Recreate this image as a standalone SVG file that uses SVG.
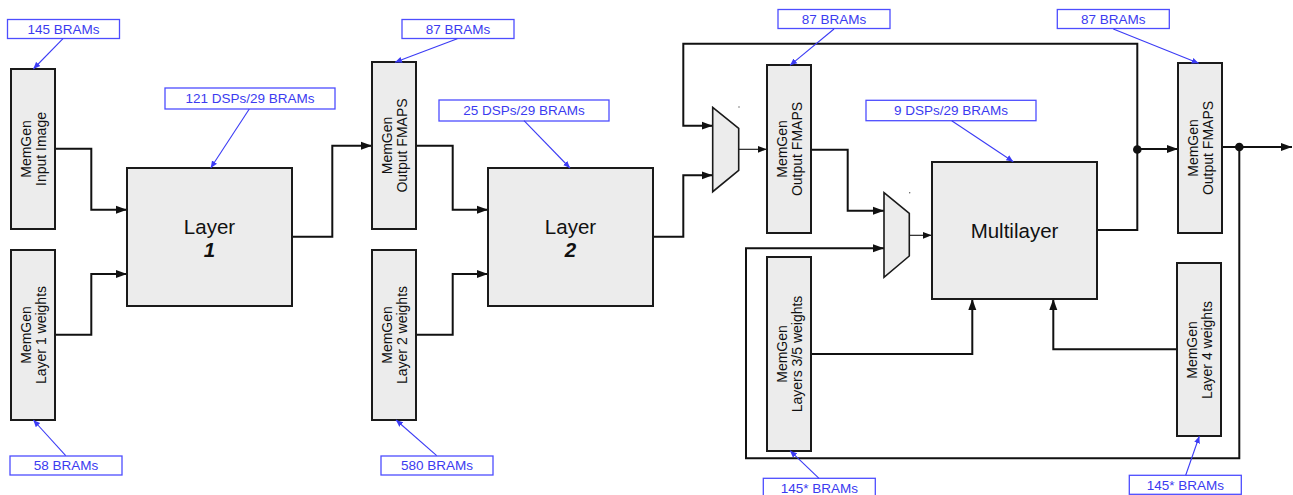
<svg xmlns="http://www.w3.org/2000/svg" width="1293" height="495" viewBox="0 0 1293 495">
<style>
.box{fill:#ececec;stroke:#1a1a1a;stroke-width:2}
.mux{fill:#ececec;stroke:#1a1a1a;stroke-width:1.6}
.vt{font-family:"Liberation Sans",Arial,sans-serif;font-size:14px;fill:#111;text-anchor:middle}
.big{font-family:"Liberation Sans",Arial,sans-serif;font-size:20.5px;fill:#111;text-anchor:middle}
.num{font-weight:bold;font-style:italic}
.lbl{fill:#fff;stroke:#4d4dff;stroke-width:1.3}
.lt{font-family:"Liberation Sans",Arial,sans-serif;font-size:13.5px;fill:#3b3bf0;text-anchor:middle}
.bl{stroke:#3b3bf5;stroke-width:1.1;fill:none;marker-end:url(#ba)}
.c{stroke:#111;stroke-width:2;fill:none}
.ca{stroke:#111;stroke-width:2;fill:none;marker-end:url(#ka)}
.thin{stroke:#111;stroke-width:1.1;fill:none;marker-end:url(#ka2)}
</style>
<defs>
<marker id="ka" markerUnits="userSpaceOnUse" markerWidth="12" markerHeight="10" refX="11" refY="5" orient="auto"><path d="M0,1 L11,5 L0,9 Z" fill="#111"/></marker>
<marker id="ka2" markerUnits="userSpaceOnUse" markerWidth="10" markerHeight="8" refX="9" refY="4" orient="auto"><path d="M0,0.5 L9,4 L0,7.5 Z" fill="#111"/></marker>
<marker id="ba" markerUnits="userSpaceOnUse" markerWidth="8" markerHeight="7" refX="7" refY="3.5" orient="auto"><path d="M0,0.5 L7,3.5 L0,6.5 Z" fill="#3b3bf5"/></marker>
</defs>

<g id="connectors">
<path class="ca" d="M55,148.7 H91.3 V209.7 H127"/>
<path class="ca" d="M55,334.7 H91.3 V274 H127"/>
<path class="ca" d="M292,236.7 H332.3 V145.7 H372"/>
<path class="ca" d="M416.7,145.7 H452.7 V209.7 H488"/>
<path class="ca" d="M416.7,334.7 H452.7 V274 H488"/>
<path class="ca" d="M653.3,236.7 H683.3 V175.3 H712.7"/>
<path class="ca" d="M1097,230 H1137.3 V43.7 H683.3 V125.7 H712.7"/>
<path class="ca" d="M1137.3,149 H1178"/>
<path class="thin" d="M738.7,149.3 H766.7"/>
<path class="ca" d="M810.7,149.7 H847.7 V210.7 H884"/>
<path class="thin" d="M909.3,235.3 H931.7"/>
<path class="ca" d="M1221.3,147 H1292"/>
<path class="ca" d="M1239.3,147 V458.3 H746 V248.3 H884"/>
<path class="ca" d="M810.7,354 H972.3 V299"/>
<path class="ca" d="M1177,349.3 H1053.3 V299"/>
<circle cx="1137.3" cy="149.5" r="4.3" fill="#111"/>
<circle cx="1239.3" cy="147" r="4.3" fill="#111"/>
<circle cx="739" cy="107" r="0.7" fill="#555"/>
<circle cx="909.7" cy="192.7" r="0.7" fill="#555"/>
</g>

<g id="inImg"><rect class="box" x="11" y="69" width="44" height="160"/>
<text class="vt" transform="translate(33,149) rotate(-90)"><tspan x="0" y="-2.3">MemGen</tspan><tspan x="0" y="12.5">Input Image</tspan></text></g>
<g id="w1"><rect class="box" x="11" y="250" width="44" height="170"/>
<text class="vt" transform="translate(33,335) rotate(-90)"><tspan x="0" y="-2.3">MemGen</tspan><tspan x="0" y="12.5">Layer 1 weights</tspan></text></g>
<g id="layer1"><rect class="box" x="127" y="168" width="165" height="138"/>
<text class="big" x="209.5" y="233.5">Layer</text><text class="big num" x="209.5" y="256.5">1</text></g>
<g id="fm1"><rect class="box" x="372" y="62" width="44" height="167"/>
<text class="vt" transform="translate(394,145.5) rotate(-90)"><tspan x="0" y="-2.3">MemGen</tspan><tspan x="0" y="12.5">Output FMAPS</tspan></text></g>
<g id="w2"><rect class="box" x="372" y="250" width="44" height="170"/>
<text class="vt" transform="translate(394,335) rotate(-90)"><tspan x="0" y="-2.3">MemGen</tspan><tspan x="0" y="12.5">Layer 2 weights</tspan></text></g>
<g id="layer2"><rect class="box" x="488" y="168" width="165" height="138"/>
<text class="big" x="570.5" y="233.5">Layer</text><text class="big num" x="570.5" y="256.5">2</text></g>
<g id="mux1"><polygon class="mux" points="712.7,107.3 738.7,128.3 738.7,170.3 712.7,191.7"/></g>
<g id="fm2"><rect class="box" x="767" y="65" width="44" height="168"/>
<text class="vt" transform="translate(789,149) rotate(-90)"><tspan x="0" y="-2.3">MemGen</tspan><tspan x="0" y="12.5">Output FMAPS</tspan></text></g>
<g id="mux2"><polygon class="mux" points="884,192.7 909.3,213.3 909.3,256 884,277.3"/></g>
<g id="multilayer"><rect class="box" x="932" y="162" width="165" height="137"/>
<text class="big" x="1014.5" y="238">Multilayer</text></g>
<g id="w35"><rect class="box" x="767" y="257" width="44" height="194"/>
<text class="vt" transform="translate(789,354) rotate(-90)"><tspan x="0" y="-2.3">MemGen</tspan><tspan x="0" y="12.5">Layers 3/5 weights</tspan></text></g>
<g id="fm3"><rect class="box" x="1178" y="63" width="44" height="170"/>
<text class="vt" transform="translate(1200,148) rotate(-90)"><tspan x="0" y="-2.3">MemGen</tspan><tspan x="0" y="12.5">Output FMAPS</tspan></text></g>
<g id="w4"><rect class="box" x="1177" y="263" width="44" height="173"/>
<text class="vt" transform="translate(1199,350) rotate(-90)"><tspan x="0" y="-2.3">MemGen</tspan><tspan x="0" y="12.5">Layer 4 weights</tspan></text></g>

<g id="labels">
<rect class="lbl" x="7.5" y="19.5" width="112" height="19"/><text class="lt" x="63.5" y="33.8">145 BRAMs</text><path class="bl" d="M63,38.7 L33.3,69"/>
<rect class="lbl" x="165" y="88" width="170" height="21"/><text class="lt" x="250" y="103.3">121 DSPs/29 BRAMs</text><path class="bl" d="M249.3,109 L210.7,168"/>
<rect class="lbl" x="10" y="456" width="112" height="19"/><text class="lt" x="66" y="470.3">58 BRAMs</text><path class="bl" d="M65.7,455.7 L33.3,420"/>
<rect class="lbl" x="402" y="19.5" width="112" height="19"/><text class="lt" x="458" y="33.8">87 BRAMs</text><path class="bl" d="M457.3,38.7 L395,62.3"/>
<rect class="lbl" x="439" y="100" width="170" height="21"/><text class="lt" x="524" y="115.3">25 DSPs/29 BRAMs</text><path class="bl" d="M524,120.7 L570,168"/>
<rect class="lbl" x="381" y="456" width="112" height="19"/><text class="lt" x="437" y="470.3">580 BRAMs</text><path class="bl" d="M436.7,455.7 L396,420"/>
<rect class="lbl" x="778" y="9.5" width="112" height="19"/><text class="lt" x="834" y="23.8">87 BRAMs</text><path class="bl" d="M834,29 L790,65.3"/>
<rect class="lbl" x="866" y="100.3" width="170" height="20.4"/><text class="lt" x="951" y="115.3">9 DSPs/29 BRAMs</text><path class="bl" d="M951.7,120.7 L1013.3,161.7"/>
<rect class="lbl" x="1057.3" y="9.5" width="112" height="19"/><text class="lt" x="1113.3" y="23.8">87 BRAMs</text><path class="bl" d="M1113.3,29 L1198.7,63.3"/>
<rect class="lbl" x="763.3" y="478.3" width="112" height="19"/><text class="lt" x="819.3" y="493">145* BRAMs</text><path class="bl" d="M819,478.3 L790,450.7"/>
<rect class="lbl" x="1129.3" y="475.3" width="112" height="19"/><text class="lt" x="1185.3" y="490">145* BRAMs</text><path class="bl" d="M1185.7,475.3 L1199.3,436.3"/>
</g>
</svg>
